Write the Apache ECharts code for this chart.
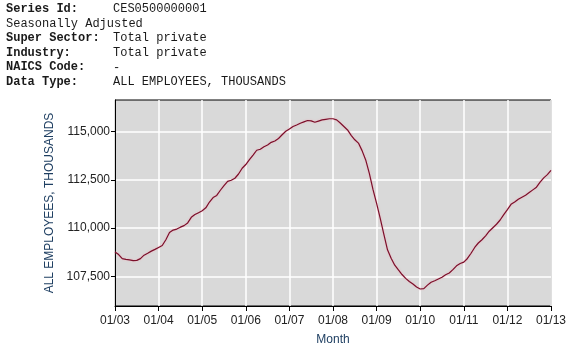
<!DOCTYPE html>
<html>
<head>
<meta charset="utf-8">
<script src="https://cdn.jsdelivr.net/npm/echarts@6/dist/echarts.min.js"></script>
<style>
html,body{margin:0;padding:0;background:#fff;}
#c{width:576px;height:351px;}
</style>
</head>
<body>
<div id="c"></div>
<script>
// Header info
var headerLabels = ['Series Id:', 'Seasonally Adjusted', 'Super Sector:', 'Industry:', 'NAICS Code:', 'Data Type:'];
var headerBold = [true, false, true, true, true, true];
var headerValues = ['CES0500000001', '', 'Total private', 'Total private', '-', 'ALL EMPLOYEES, THOUSANDS'];

// Monthly values (thousands), Jan..Dec per year
var v2003 = [108760,108630,108420,108380,108360,108320,108330,108420,108600,108700,108810,108900];
var v2004 = [109000,109100,109400,109770,109900,109950,110050,110130,110270,110560,110700,110800];
var v2005 = [110900,111050,111350,111580,111690,111960,112200,112420,112480,112580,112800,113100];
var v2006 = [113290,113540,113780,114030,114080,114210,114300,114440,114510,114640,114830,115010];
var v2007 = [115130,115260,115340,115430,115500,115570,115550,115480,115540,115600,115630,115660];
var v2008 = [115660,115600,115440,115260,115080,114800,114570,114400,114010,113530,112830,112000];
var v2009 = [111280,110500,109680,108880,108440,108080,107835,107600,107400,107240,107110,106950];
var v2010 = [106850,106870,107050,107200,107280,107370,107460,107590,107680,107850,108050,108170];
var v2011 = [108240,108430,108700,109000,109230,109400,109600,109840,110020,110200,110420,110700];
var v2012 = [110960,111230,111350,111490,111600,111700,111840,111980,112120,112380,112600,112770];
var v2013 = [112990];

var xTickLabels = ['01/03','01/04','01/05','01/06','01/07','01/08','01/09','01/10','01/11','01/12','01/13'];
var yTicks = [107500, 110000, 112500, 115000];

var allValues = [].concat(v2003,v2004,v2005,v2006,v2007,v2008,v2009,v2010,v2011,v2012,v2013);
var seriesData = allValues.map(function(v, i){ return [i, v]; });

var graphics = [];
for (var i = 0; i < headerLabels.length; i++) {
  graphics.push({
    type: 'text', left: 6, top: 3 + i * 14.6,
    style: { text: headerLabels[i], font: (headerBold[i] ? 'bold ' : '') + '12px "Liberation Mono", monospace', fill: '#1a1a1a' }
  });
  if (headerValues[i]) {
    graphics.push({
      type: 'text', left: 113, top: 3 + i * 14.6,
      style: { text: headerValues[i], font: '12px "Liberation Mono", monospace', fill: '#1a1a1a' }
    });
  }
}

var chart = echarts.init(document.getElementById('c'), null, {renderer: 'canvas'});
chart.setOption({
  animation: false,
  backgroundColor: '#ffffff',
  graphic: graphics,
  grid: {
    left: 115, right: 25, top: 100, bottom: 44,
    show: true, backgroundColor: '#d9d9d9', borderColor: '#000', borderWidth: 1
  },
  xAxis: {
    type: 'value', min: 0, max: 120, interval: 12,
    name: 'Month', nameLocation: 'middle', nameGap: 28,
    nameTextStyle: { color: '#1f3f62', fontFamily: 'Liberation Sans', fontSize: 12 },
    axisLine: { show: true, lineStyle: { color: '#000', width: 1 } },
    axisTick: { show: true, length: 5, lineStyle: { color: '#000' } },
    axisLabel: {
      color: '#222', fontFamily: 'Liberation Sans', fontSize: 12, margin: 9,
      formatter: function(v){ return xTickLabels[Math.round(v / 12)]; }
    },
    splitLine: { show: true, lineStyle: { color: '#ffffff', width: 1.5 } }
  },
  yAxis: {
    type: 'value', min: 105970, max: 116630,
    name: 'ALL EMPLOYEES, THOUSANDS', nameLocation: 'middle', nameGap: 57,
    nameTextStyle: { color: '#1f3f62', fontFamily: 'Liberation Sans', fontSize: 12 },
    axisLine: { show: true, lineStyle: { color: '#000', width: 1 } },
    axisTick: { show: true, length: 4, customValues: yTicks, lineStyle: { color: '#000' } },
    axisLabel: {
      color: '#222', fontFamily: 'Liberation Sans', fontSize: 12, margin: 5,
      customValues: yTicks,
      formatter: function(v){ return v.toLocaleString('en-US'); }
    },
    splitLine: { show: true, lineStyle: { color: '#ffffff', width: 1.5 } }
  },
  series: [{
    type: 'line', data: seriesData, symbol: 'none', smooth: false,
    lineStyle: { color: '#7a0f2a', width: 1.2, shadowColor: 'rgba(255,150,170,0.6)', shadowBlur: 2 }
  }]
});
</script>
</body>
</html>
